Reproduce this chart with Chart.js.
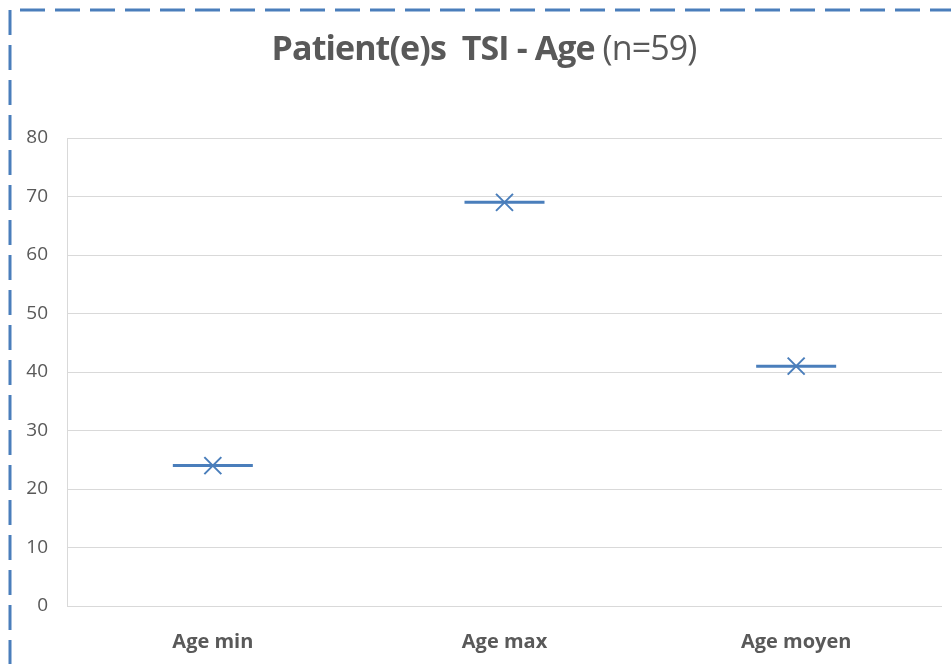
<!DOCTYPE html>
<html>
<head>
<meta charset="utf-8">
<script src="https://cdn.jsdelivr.net/npm/chart.js@4"></script>
<style>
  html, body { margin: 0; padding: 0; background: #fff; }
  #wrap { position: relative; width: 951px; height: 664px; overflow: hidden; }
  #title {
    position: absolute; left: 0; top: 27px; width: 968px; text-align: center;
    font-family: "Open Sans", sans-serif; font-size: 34px; color: #595959;
    letter-spacing: -0.9px; line-height: 40px; white-space: nowrap;
  }
  #title b { font-weight: 700; }
</style>
</head>
<body>
<div id="wrap">
  <canvas id="mycanvas" width="951" height="664"></canvas>
  <div id="title"><b>Patient(e)s&nbsp; TSI - Age</b> (n=59)</div>
</div>
<script>
var categories = ["Age min", "Age max", "Age moyen"];
var ages = [24, 69, 41];
var yTicks = [0, 10, 20, 30, 40, 50, 60, 70, 80];

var blue = "#4a7ebb";
var grey = "#595959";

// dashed frame around the chart, runs off the right and bottom edge
var framePlugin = {
    id: "frame",
    afterDraw: function(chart) {
        var ctx = chart.ctx;
        ctx.save();
        ctx.strokeStyle = blue;
        ctx.lineWidth = 3;
        ctx.setLineDash([25, 10]);
        ctx.beginPath();
        ctx.moveTo(10, 700);
        ctx.lineTo(10, 10);
        ctx.lineTo(1000, 10);
        ctx.stroke();
        ctx.restore();
    }
};

var chartdata = {
    labels: categories,
    datasets: [{
        label: "Age (trait)",
        data: ages,
        showLine: false,
        pointStyle: "line",
        pointRadius: 40,
        pointHoverRadius: 40,
        pointBorderWidth: 3,
        borderColor: blue,
        backgroundColor: blue
    }, {
        label: "Age",
        data: ages,
        showLine: false,
        pointStyle: "crossRot",
        pointRadius: 12,
        pointHoverRadius: 12,
        pointBorderWidth: 2,
        borderColor: blue,
        backgroundColor: blue
    }]
};

var ctx = document.getElementById("mycanvas");
var lineGraph = new Chart(ctx, {
    type: "line",
    data: chartdata,
    plugins: [framePlugin],
    options: {
        responsive: false,
        animation: false,
        layout: { autoPadding: false, padding: { top: 138, right: 9, bottom: 6, left: 0 } },
        plugins: {
            legend: { display: false },
            tooltip: { enabled: false },
            title: { display: false }
        },
        scales: {
            x: {
                offset: true,
                grid: { display: false, drawTicks: false },
                border: { display: false },
                afterFit: function(axis) { axis.height = 52; },
                ticks: {
                    color: grey,
                    padding: 24,
                    font: { family: "Open Sans", size: 20, weight: "bold" }
                }
            },
            y: {
                min: 0,
                max: 80,
                afterBuildTicks: function(axis) {
                    axis.ticks = yTicks.map(function(v) { return { value: v }; });
                },
                afterFit: function(axis) { axis.width = 67; },
                grid: { color: "#d9d9d9", lineWidth: 1, drawTicks: false },
                border: { display: true, color: "#d9d9d9", width: 1 },
                ticks: {
                    color: grey,
                    padding: 19,
                    font: { family: "Open Sans", size: 19 }
                }
            }
        }
    }
});
</script>
</body>
</html>
